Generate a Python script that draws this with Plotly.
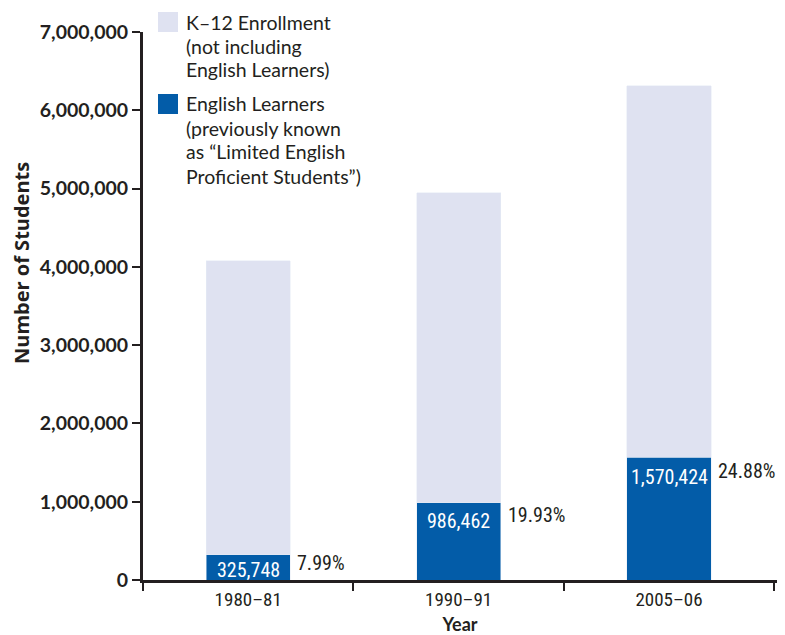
import plotly.graph_objects as go

years = ["1980–81", "1990–91", "2005–06"]
english_learners = [325748, 986462, 1570424]
other_enrollment = [3751198, 3963171, 4741570]
el_labels = ["325,748", "986,462", "1,570,424"]
pct_labels = ["7.99%", "19.93%", "24.88%"]
tick_vals = [0, 1000000, 2000000, 3000000, 4000000, 5000000, 6000000, 7000000]
tick_text = ["0", "1,000,000", "2,000,000", "3,000,000", "4,000,000",
             "5,000,000", "6,000,000", "7,000,000"]
legend_lines = [["K–12 Enrollment", "(not including", "English Learners)"],
                ["English Learners", "(previously known", "as “Limited English", "Proficient Students”)"]]

# label offsets (pixels, styling only)
value_label_shift = [-15, -18, -20]
pct_label_shift = [-8, -12, -14]

LIGHT = "#dfe2f1"
BLUE = "#035ca8"
INK = "#231f20"
COND = "Liberation Sans Narrow, Roboto Condensed, DejaVu Sans Condensed, sans-serif"
GILL = "Lato, Open Sans, sans-serif"

# page body has an 8px margin; plot area target: x 143..777, y 32..580
OFF = 8
W, H = 785 - OFF, 635 - OFF
L, T, R, B = 143 - OFF, 32 - OFF, 8, 55
PW, PH = 777 - 143, 580 - 32

fig = go.Figure()
fig.add_trace(go.Bar(x=years, y=english_learners, marker_color=BLUE, width=0.4,
                     name="English Learners", showlegend=False))
fig.add_trace(go.Bar(x=years, y=other_enrollment, marker_color=LIGHT, width=0.4,
                     name="K–12 Enrollment (not including English Learners)", showlegend=False))

annotations = []
for i, (yr, v, lab, pct) in enumerate(zip(years, english_learners, el_labels, pct_labels)):
    annotations.append(dict(x=yr, y=v, xref="x", yref="y", text=lab, showarrow=False,
                            yanchor="middle", yshift=value_label_shift[i],
                            font=dict(family=COND, size=20, color="white")))
    annotations.append(dict(x=yr, y=v, xref="x", yref="y", text=pct, showarrow=False,
                            xanchor="left", yanchor="middle", xshift=47, yshift=pct_label_shift[i],
                            font=dict(family=COND, size=20, color=INK)))

# manual legend
legend_colors = [LIGHT, BLUE]
legend_tops = [12, 94]
shapes = []
for lines, col, top in zip(legend_lines, legend_colors, legend_tops):
    shapes.append(dict(type="rect", xref="paper", yref="paper",
                       x0=(158 - 143) / PW, x1=(178 - 143) / PW,
                       y0=(580 - top) / PH, y1=(580 - top - 20) / PH,
                       fillcolor=col, line=dict(width=0)))
    for k, line in enumerate(lines):
        cy = top + 10 + 24 * k
        annotations.append(dict(x=(184 - 143) / PW, y=(580 - cy) / PH, xref="paper", yref="paper",
                                text=line, showarrow=False, xanchor="left", yanchor="middle",
                                align="left", font=dict(family=GILL, size=19.5, color=INK)))

# y-axis title as annotation (placed as in reference, not centered on axis)
annotations.append(dict(x=-(143 - 22) / PW, y=(580 - 263) / PH, xref="paper", yref="paper",
                        text="<b>Number of Students</b>", showarrow=False, textangle=-90,
                        xanchor="center", yanchor="middle",
                        font=dict(family="Open Sans, Lato, sans-serif", size=20, color=INK)))

fig.update_layout(
    width=W, height=H,
    margin=dict(l=L, r=R, t=T, b=B, autoexpand=False),
    barmode="stack",
    plot_bgcolor="white", paper_bgcolor="white",
    showlegend=False,
    annotations=annotations,
    shapes=shapes,
    xaxis=dict(
        showline=True, linecolor=INK, linewidth=3,
        ticks="outside", tickson="boundaries", ticklen=8, tickwidth=2, tickcolor=INK,
        tickfont=dict(family=COND, size=19, color=INK),
        title=dict(text="<b>Year</b>", font=dict(family=GILL, size=18, color=INK), standoff=11),
        showgrid=False, zeroline=False,
    ),
    yaxis=dict(
        range=[0, 7000000],
        showline=True, linecolor=INK, linewidth=3,
        ticks="outside", ticklen=8, tickwidth=2, tickcolor=INK,
        tickvals=tick_vals, ticktext=["<b>%s</b>" % t for t in tick_text],
        tickfont=dict(family=GILL, size=19.5, color=INK),
        showgrid=False, zeroline=False,
    ),
)

fig.write_html("out.html")
